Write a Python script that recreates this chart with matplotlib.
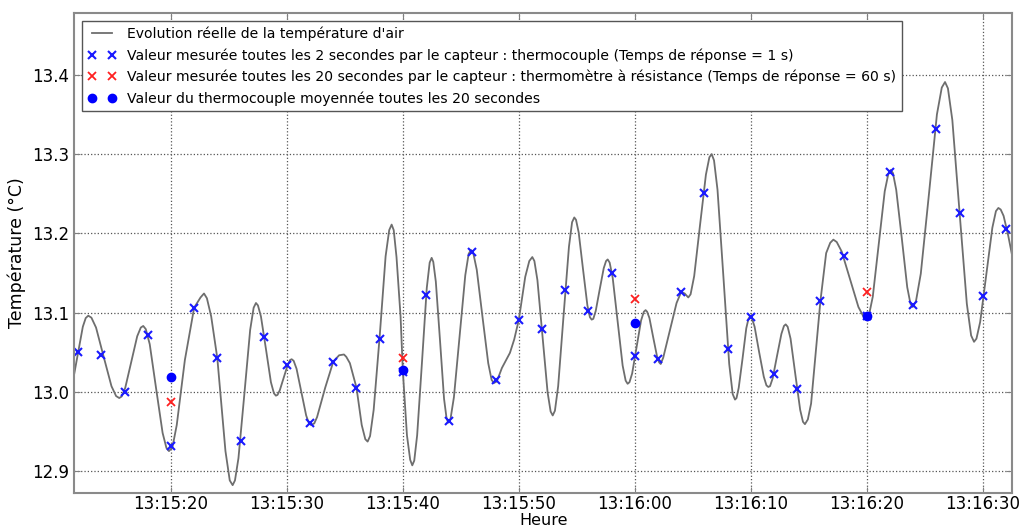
import datetime as dt
import matplotlib
matplotlib.use("Agg")
import matplotlib.pyplot as plt
import matplotlib.dates as mdates
import numpy as np

base = dt.datetime(2020, 1, 1, 13, 15, 0)

curve_t = [11.64, 12.0, 12.4, 12.65, 12.87, 13.14, 13.54, 14.2, 14.87, 15.27,
           15.54, 15.75, 16.06, 16.58, 17.09, 17.40, 17.61, 17.83, 18.17, 18.72,
           19.28, 19.61, 19.83, 20.13, 20.5, 21.2, 22.0, 22.55, 22.85, 23.10,
           23.47, 24.0, 24.7, 25.07, 25.32, 25.52, 25.82, 26.33, 26.83, 27.13,
           27.33, 27.50, 27.76, 28.19, 28.62, 28.88, 29.05, 29.19, 29.39, 29.73,
           30.07, 30.27, 30.41, 30.58, 30.83, 31.24, 31.66, 31.90, 32.07, 32.36,
           32.6, 33.3, 34.0, 34.5, 34.92, 35.12, 35.43, 36.0, 36.45, 36.76,
           36.96, 37.17, 37.48, 38.0, 38.51, 38.82, 39.03, 39.21, 39.45, 39.8,
           40.0, 40.35, 40.63, 40.81, 40.98, 41.23, 41.65, 42.06, 42.31, 42.48,
           42.62, 42.84, 43.2, 43.55, 43.77, 43.91, 44.11, 44.4, 44.89, 45.38,
           45.67, 45.87, 46.07, 46.37, 46.86, 47.36, 47.65, 47.85, 48.1, 48.54,
           49.23, 49.6, 50.0, 50.55, 50.9, 51.16, 51.34, 51.6, 52.04, 52.48,
           52.74, 52.92, 53.11, 53.39, 53.85, 54.32, 54.59, 54.78, 54.93, 55.16,
           55.53, 55.91, 56.13, 56.28, 56.42, 56.63, 56.97, 57.32, 57.52, 57.66,
           57.83, 58.09, 58.52, 58.95, 59.21, 59.38, 59.54, 59.77, 60.16, 60.54,
           60.78, 60.93, 61.06, 61.26, 61.58, 61.91, 62.10, 62.23, 62.45, 63.1,
           63.6, 64.0, 64.3, 64.61, 64.81, 65.12, 65.62, 66.13, 66.43, 66.63,
           66.83, 67.13, 67.64, 68.14, 68.44, 68.64, 68.77, 68.96, 69.29, 69.61,
           69.80, 69.93, 70.09, 70.33, 70.72, 71.12, 71.35, 71.51, 71.66, 71.89,
           72.26, 72.64, 72.86, 73.01, 73.18, 73.43, 73.84, 74.26, 74.50, 74.67,
           74.92, 75.2, 75.6, 76.0, 76.5, 76.85, 77.12, 77.41, 77.84, 78.56,
           79.28, 79.71, 80.0, 80.21, 80.52, 81.04, 81.55, 81.86, 82.07, 82.26,
           82.54, 83.02, 83.49, 83.77, 83.96, 84.24, 84.66, 85.36, 86.05, 86.47,
           86.75, 87.0, 87.38, 88.0, 88.63, 89.0, 89.25, 89.46, 89.78, 90.3,
           90.83, 91.14, 91.35, 91.55, 91.8, 92.2, 92.55]
curve_T = [13.021, 13.050, 13.082, 13.093, 13.096, 13.0935, 13.081, 13.044, 13.007, 12.9945,
           12.992, 12.994, 13.005, 13.038, 13.070, 13.081, 13.083, 13.079, 13.060, 13.004,
           12.948, 12.929, 12.925, 12.930, 12.958, 13.040, 13.106, 13.119, 13.124, 13.118,
           13.095, 13.042, 12.925, 12.888, 12.882, 12.888, 12.916, 12.997, 13.078, 13.106,
           13.112, 13.109, 13.095, 13.054, 13.012, 12.998, 12.995, 12.996, 13.002, 13.018,
           13.034, 13.040, 13.041, 13.039, 13.029, 13.000, 12.970, 12.960, 12.958, 12.960,
           12.968, 13.005, 13.038, 13.046, 13.047, 13.044, 13.036, 13.005, 12.958, 12.940,
           12.937, 12.944, 12.977, 13.070, 13.171, 13.204, 13.211, 13.204, 13.170, 13.095,
           13.025, 12.945, 12.914, 12.907, 12.913, 12.945, 13.038, 13.131, 13.163, 13.169,
           13.164, 13.139, 13.065, 12.991, 12.966, 12.961, 12.966, 12.993, 13.070, 13.147,
           13.174, 13.179, 13.175, 13.154, 13.095, 13.036, 13.015, 13.011, 13.013, 13.030,
           13.049, 13.066, 13.091, 13.145, 13.165, 13.170, 13.165, 13.141, 13.070, 12.999,
           12.975, 12.970, 12.976, 13.007, 13.095, 13.183, 13.214, 13.220, 13.217, 13.201,
           13.155, 13.109, 13.094, 13.091, 13.092, 13.102, 13.129, 13.156, 13.165, 13.167,
           13.163, 13.144, 13.088, 13.033, 13.014, 13.010, 13.012, 13.023, 13.057, 13.090,
           13.101, 13.103, 13.101, 13.093, 13.069, 13.045, 13.037, 13.035, 13.043, 13.082,
           13.112, 13.126, 13.124, 13.119, 13.123, 13.146, 13.210, 13.274, 13.296, 13.300,
           13.292, 13.255, 13.145, 13.035, 12.997, 12.990, 12.992, 13.005, 13.042, 13.080,
           13.092, 13.095, 13.093, 13.082, 13.050, 13.019, 13.008, 13.006, 13.007, 13.017,
           13.045, 13.073, 13.083, 13.085, 13.082, 13.067, 13.022, 12.977, 12.962, 12.959,
           12.965, 12.985, 13.050, 13.114, 13.175, 13.188, 13.192, 13.189, 13.177, 13.142,
           13.107, 13.095, 13.093, 13.098, 13.120, 13.187, 13.253, 13.275, 13.280, 13.276,
           13.255, 13.194, 13.132, 13.111, 13.107, 13.114, 13.149, 13.249, 13.350, 13.384,
           13.391, 13.383, 13.343, 13.227, 13.111, 13.071, 13.063, 13.067, 13.088, 13.147,
           13.207, 13.228, 13.232, 13.230, 13.222, 13.197, 13.171]

# thermocouple, one value every 2 s
tc_t = np.arange(12, 93, 2)
tc_T = [13.050, 13.046, 12.999, 13.072, 12.932, 13.106, 13.042, 12.938, 13.069, 13.034, 12.961,
        13.038, 13.005, 13.066, 13.025, 13.122, 12.963, 13.176, 13.015, 13.091, 13.079, 13.129,
        13.102, 13.150, 13.045, 13.041, 13.126, 13.251, 13.054, 13.094, 13.022, 13.003, 13.114,
        13.171, 13.096, 13.278, 13.110, 13.332, 13.225, 13.121, 13.205]

# resistance thermometer and thermocouple mean, every 20 s
slow_t = [20, 40, 60, 80]
res_T = [12.987, 13.042, 13.117, 13.126]
mean_T = [13.018, 13.028, 13.087, 13.096]


def to_dates(secs):
    return [base + dt.timedelta(seconds=float(s)) for s in secs]


fig = plt.figure(figsize=(10.25, 5.3), dpi=100)
ax = fig.add_axes([0.0722, 0.0704, 0.9154, 0.9056])

ax.plot(to_dates(curve_t), curve_T, color='#6e6e6e', lw=1.3,
        label="Evolution réelle de la température d'air")
ax.plot(to_dates(tc_t), tc_T, 'x', color='#1a1aff', ms=6, mew=1.5,
        label="Valeur mesurée toutes les 2 secondes par le capteur : thermocouple (Temps de réponse = 1 s)")
ax.plot(to_dates(slow_t), res_T, 'x', color='#ff2020', ms=6, mew=1.3,
        label="Valeur mesurée toutes les 20 secondes par le capteur : thermomètre à résistance (Temps de réponse = 60 s)")
ax.plot(to_dates(slow_t), mean_T, 'o', color='#0000ff', ms=6, mec='#0000ff',
        label="Valeur du thermocouple moyennée toutes les 20 secondes")

ax.set_xlim(to_dates([11.64])[0], to_dates([92.55])[0])
ax.set_ylim(12.8725, 13.4785)
ax.set_yticks([12.9, 13.0, 13.1, 13.2, 13.3, 13.4])
ax.xaxis.set_major_locator(mdates.SecondLocator(bysecond=[0, 10, 20, 30, 40, 50]))
ax.xaxis.set_major_formatter(mdates.DateFormatter('%H:%M:%S'))

ax.grid(True, color='#555555', ls=':', lw=0.9)
ax.tick_params(direction='in', top=True, right=True, labelsize=12,
               color='#808080', length=4)
ax.tick_params(axis='x', pad=2)
for s in ax.spines.values():
    s.set_color('#8a8a8a')
    s.set_linewidth(1.5)

ax.set_xlabel('Heure', fontsize=11.5, labelpad=0)
ax.set_ylabel('Température (°C)', fontsize=12.5, labelpad=4)

ax.legend(loc='upper left', numpoints=2, fontsize=10.1, fancybox=False,
          edgecolor='#555555', framealpha=1, borderaxespad=0.6)

fig.savefig('out.png', dpi=100)
